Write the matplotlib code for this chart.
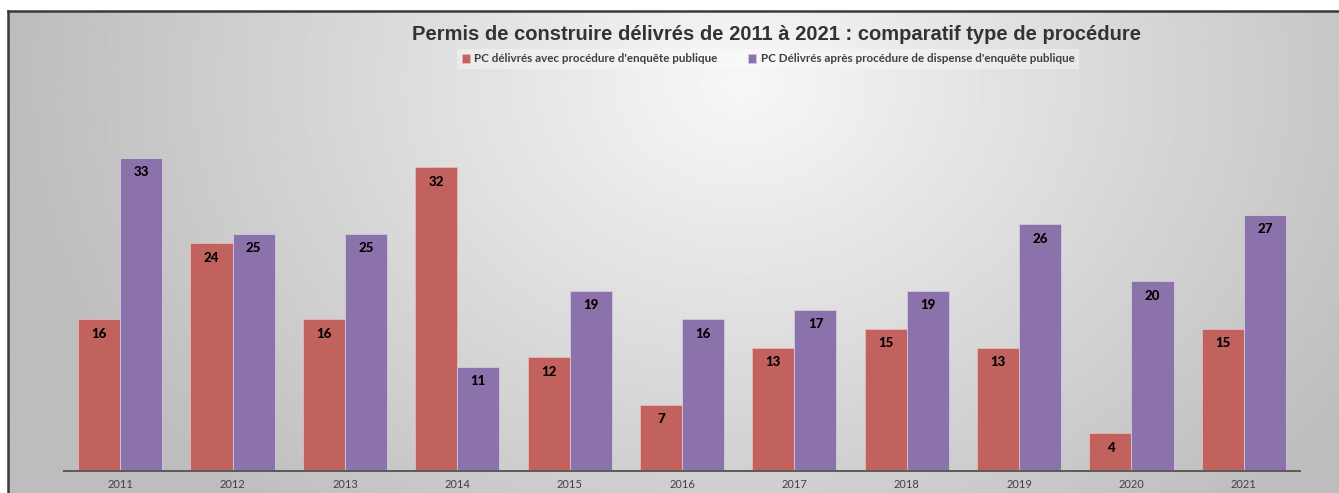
import matplotlib.pyplot as plt
import numpy as np

years = ["2011", "2012", "2013", "2014", "2015", "2016",
         "2017", "2018", "2019", "2020", "2021"]
avec_enquete = [16, 24, 16, 32, 12, 7, 13, 15, 13, 4, 15]
dispense_enquete = [33, 25, 25, 11, 19, 16, 17, 19, 26, 20, 27]

label_avec = "PC délivrés avec procédure d'enquête publique"
label_dispense = "PC Délivrés après procédure de dispense d'enquête publique"
title = "Permis de construire délivrés de 2011 à 2021 : comparatif type de procédure"

red = "#c1625e"
purple = "#8b72aa"

W, H = 1339, 493
fig = plt.figure(figsize=(W / 100, H / 100), dpi=100)
fig.patch.set_facecolor("white")

# radial grey background inside the frame
bg = fig.add_axes([8 / W, 0, 1 - 8 / W, 1 - 11 / H])
yy, xx = np.mgrid[0:300, 0:800]
cx, cy = 0.55 * 800, 0.15 * 300
r = np.sqrt(((xx - cx) / 800) ** 2 + ((yy - cy) / 300 * 0.45) ** 2)
shade = np.clip(0.97 - 0.42 * r, 0.74, 1.0)
bg.imshow(shade, cmap="gray", vmin=0, vmax=1, aspect="auto",
          extent=[0, 1, 0, 1], origin="upper", interpolation="bilinear")
bg.set_xticks([])
bg.set_yticks([])
for side in ["right", "bottom"]:
    bg.spines[side].set_visible(False)
for side in ["left", "top"]:
    bg.spines[side].set_color("#3a3a3a")
    bg.spines[side].set_linewidth(1.8)

ax = fig.add_axes([64 / W, 22 / H, (1300 - 64) / W, (471 - 80) / H])
ax.set_facecolor("none")
x = np.arange(len(years))
w = 0.375
b1 = ax.bar(x - w / 2, avec_enquete, w, color=red, edgecolor="#e6b8b6",
            linewidth=0.6, label=label_avec)
b2 = ax.bar(x + w / 2, dispense_enquete, w, color=purple, edgecolor="#d2c8e0",
            linewidth=0.6, label=label_dispense)

for bars, vals in [(b1, avec_enquete), (b2, dispense_enquete)]:
    for rect, v in zip(bars, vals):
        ax.annotate(str(v), (rect.get_x() + rect.get_width() / 2, v),
                    xytext=(0, -10.5), textcoords="offset points",
                    ha="center", va="center", fontsize=9.5, fontweight="black",
                    family="Lato", color="black")

ax.set_xlim(-0.5, len(years) - 0.5)
ax.set_ylim(0, 41.2)
ax.set_xticks(x)
ax.set_xticklabels(years, fontsize=8, color="#404040", family="Lato")
ax.tick_params(axis="x", length=0, pad=6)
ax.set_yticks([])
for side in ["left", "right", "top"]:
    ax.spines[side].set_visible(False)
ax.spines["bottom"].set_color("#5a5a5a")
ax.spines["bottom"].set_linewidth(1.4)

fig.text(776 / W, 1 - 34 / H, title, ha="center", va="center",
         fontsize=14.5, fontweight="bold", family="Liberation Sans",
         color="#333333")

leg = fig.legend(handles=[b1, b2], loc="center", ncol=2,
                 bbox_to_anchor=(768 / W, 1 - 59 / H), frameon=True,
                 fancybox=False, handlelength=0.7, handleheight=0.7,
                 columnspacing=2.6, handletextpad=0.4, borderpad=0.35,
                 prop={"family": "Lato", "weight": "bold", "size": 8.4})
leg.get_frame().set_facecolor("white")
leg.get_frame().set_alpha(0.35)
leg.get_frame().set_edgecolor("none")
for t in leg.get_texts():
    t.set_color("#404040")

fig.savefig("out.png", dpi=100)
